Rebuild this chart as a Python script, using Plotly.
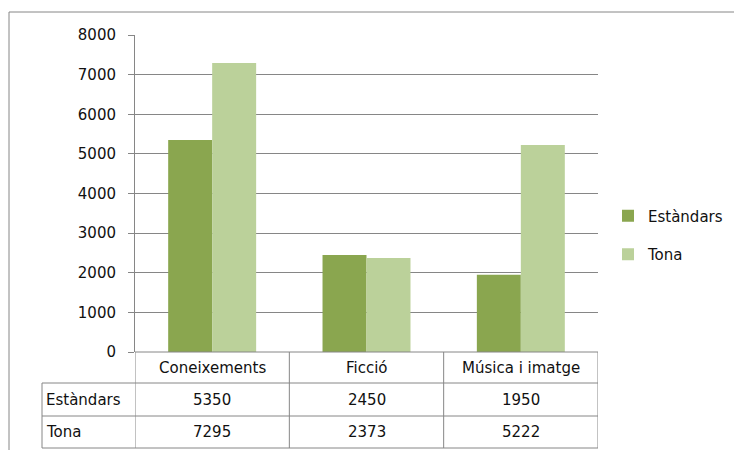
import plotly.graph_objects as go

categories = ["Coneixements", "Ficció", "Música i imatge"]
series_names = ["Estàndars", "Tona"]
estandars = [5350, 2450, 1950]
tona = [7295, 2373, 5222]
y_ticks = [0, 1000, 2000, 3000, 4000, 5000, 6000, 7000, 8000]

colors = ["#8AA64F", "#BBD19A"]
line_col = "#868686"
FONT = "DejaVu Sans"
FS = 15
TXT = "#111111"

# the page body adds an 8px offset, so the figure is sized/placed to compensate
OFF = 8
W, H = 742 - OFF, 450 - OFF
def px(x): return (x - OFF) / W
def py(y): return 1 - (y - OFF) / H

plot_left, plot_right, plot_top, plot_bottom = 135, 598, 35, 352
row_edges = [352, 383, 416, 448]
table_left = 42

fig = go.Figure()
for i, (name, vals) in enumerate(zip(series_names, [estandars, tona])):
    fig.add_trace(go.Bar(x=categories, y=vals, name=name, marker_color=colors[i],
                         marker_line_width=0, legendgroup=name, hoverinfo="skip"))

shapes = []
# outer chart border
shapes.append(dict(type="rect", xref="paper", yref="paper", x0=px(9), x1=px(760), y0=py(470), y1=py(12),
                   line=dict(color=line_col, width=1), fillcolor="rgba(0,0,0,0)", layer="below"))
# table vertical lines at category boundaries
for k in range(len(categories) + 1):
    shapes.append(dict(type="line", xref="x", yref="paper", x0=k - 0.5, x1=k - 0.5,
                       y0=py(row_edges[0]), y1=py(row_edges[-1]), line=dict(color=line_col, width=1)))
# table horizontal lines
for j, ye in enumerate(row_edges):
    x0 = px(plot_left) if j == 0 else px(table_left)
    shapes.append(dict(type="line", xref="paper", yref="paper", x0=x0, x1=px(plot_right),
                       y0=py(ye), y1=py(ye), line=dict(color=line_col, width=1)))
# left border of row label column
shapes.append(dict(type="line", xref="paper", yref="paper", x0=px(table_left), x1=px(table_left),
                   y0=py(row_edges[1]), y1=py(row_edges[-1]), line=dict(color=line_col, width=1)))

annotations = []
for c in categories:
    annotations.append(dict(x=c, xref="x", y=py((row_edges[0] + row_edges[1]) / 2), yref="paper",
                            xanchor="center", yanchor="middle",
                            text=c, showarrow=False, font=dict(family=FONT, size=FS, color=TXT)))
for r, (name, vals) in enumerate(zip(series_names, [estandars, tona])):
    yc = py((row_edges[r + 1] + row_edges[r + 2]) / 2)
    annotations.append(dict(x=px(table_left + 2), xref="paper", y=yc, yref="paper",
                            xanchor="left", yanchor="middle",
                            text=name, showarrow=False, font=dict(family=FONT, size=FS, color=TXT)))
    for c, v in zip(categories, vals):
        annotations.append(dict(x=c, xref="x", y=yc, yref="paper", xanchor="center", yanchor="middle",
                                text=str(v), showarrow=False,
                                font=dict(family=FONT, size=FS, color=TXT)))

fig.update_layout(
    width=W, height=H, margin=dict(l=0, r=0, t=0, b=0, pad=0, autoexpand=False),
    paper_bgcolor="white", plot_bgcolor="white",
    barmode="group", bargap=0.43, bargroupgap=0,
    font=dict(family=FONT, size=FS, color=TXT),
    xaxis=dict(domain=[px(plot_left), px(plot_right)], range=[-0.5, 2.5], showticklabels=False,
               showgrid=False, zeroline=False, showline=False, fixedrange=True, automargin=False),
    yaxis=dict(domain=[py(plot_bottom), py(plot_top)], range=[0, 8000], tickvals=y_ticks,
               showgrid=True, gridcolor=line_col, gridwidth=1, zeroline=False,
               showline=True, linecolor=line_col, linewidth=1, automargin=False,
               ticks="outside", ticklen=6, tickcolor=line_col,
               tickfont=dict(family=FONT, size=FS, color=TXT), ticklabelstandoff=9),
    legend=dict(x=px(608), y=py(235), xanchor="left", yanchor="middle", tracegroupgap=16,
                font=dict(family=FONT, size=FS, color=TXT), bgcolor="rgba(0,0,0,0)"),
    shapes=shapes, annotations=annotations,
)

fig.write_html("out.html")
